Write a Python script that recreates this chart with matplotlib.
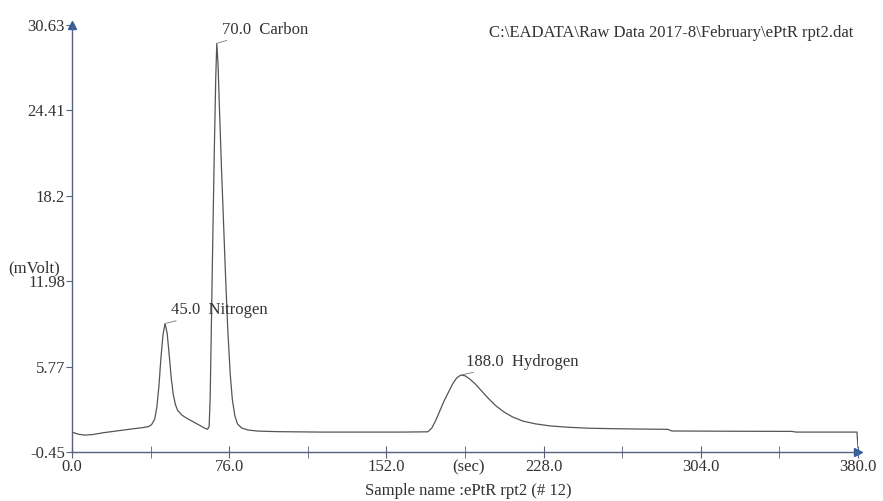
import matplotlib.pyplot as plt
from matplotlib.ticker import FixedLocator

plt.rcParams['font.family'] = ['Liberation Serif', 'DejaVu Serif']

# chromatogram trace (time in sec, signal in mV)
time_s = [0, 3, 6, 10, 15, 20, 25, 30, 34, 37, 38.5, 40, 41, 42, 43, 44, 45,
          46, 47, 48, 49, 50, 51, 53, 55, 58, 61, 64, 65.5, 66.3, 66.8, 67.3,
          68, 68.8, 69.5, 70, 70.6, 71.3, 72.2, 73.2, 74.2, 75.3, 76.5, 77.5,
          78.7, 80, 82, 85, 90, 100, 120, 140, 160, 172, 174, 176, 178, 180,
          182, 184, 186, 188, 190, 192, 195, 198, 201, 205, 209, 213, 218,
          224, 231, 240, 250, 260, 275, 288, 290, 320, 348, 350, 370, 379.5,
          380]
signal_mv = [1.0, 0.85, 0.78, 0.82, 0.95, 1.05, 1.15, 1.25, 1.32, 1.4, 1.55,
             1.95, 2.8, 4.3, 6.4, 8.1, 8.9, 8.2, 6.6, 4.9, 3.7, 3.0, 2.6,
             2.25, 2.05, 1.8, 1.55, 1.3, 1.2, 1.4, 3.5, 8.0, 14.5, 21.5, 26.8,
             29.3, 27.8, 24.5, 20.5, 16.5, 12.5, 8.5, 5.2, 3.4, 2.2, 1.6, 1.3,
             1.15, 1.07, 1.03, 1.0, 1.0, 1.0, 1.02, 1.3, 1.9, 2.6, 3.3, 3.9,
             4.5, 4.95, 5.15, 5.1, 4.9, 4.5, 4.0, 3.5, 2.9, 2.45, 2.1, 1.8,
             1.6, 1.45, 1.35, 1.28, 1.25, 1.22, 1.2, 1.08, 1.06, 1.05, 1.0,
             1.0, 1.0, -0.1]

peak_times = [45.0, 70.0, 188.0]
peak_heights = [8.9, 29.3, 5.15]
peak_names = ['Nitrogen', 'Carbon', 'Hydrogen']

y_ticks = [-0.45, 5.77, 11.98, 18.2, 24.41, 30.63]
y_tick_labels = ['-0.45', '5.77', '11.98', '18.2', '24.41', '30.63']
x_ticks = [0, 76, 152, 228, 304, 380]
x_minor = [38, 114, 190, 266, 342]

file_path = r'C:\EADATA\Raw Data 2017-8\February\ePtR rpt2.dat'
sample_name = 'Sample name :ePtR rpt2 (# 12)'

axis_col = '#5a6080'
arrow_col = '#2f5f9f'
text_col = '#333333'
fs = 12

fig = plt.figure(figsize=(8.83, 5.01), dpi=100)
ax = fig.add_axes([72 / 883, 49 / 501, 786 / 883, 427 / 501])

ax.plot(time_s, signal_mv, color='#555555', lw=0.9)

ax.set_xlim(0, 380)
ax.set_ylim(-0.45, 30.63)

for s in ['top', 'right']:
    ax.spines[s].set_visible(False)
for s in ['left', 'bottom']:
    ax.spines[s].set_color(axis_col)
    ax.spines[s].set_linewidth(1.0)

ax.set_yticks(y_ticks)
ax.set_yticklabels(y_tick_labels)
ax.set_xticks(x_ticks)
ax.set_xticklabels(['%.1f' % v for v in x_ticks])
ax.xaxis.set_minor_locator(FixedLocator(x_minor))
ax.tick_params(axis='x', which='both', direction='inout', length=8,
               color=axis_col, labelsize=fs, labelcolor=text_col, pad=1)
ax.tick_params(axis='y', direction='out', length=4, color=axis_col,
               labelsize=fs, labelcolor=text_col, pad=1)

# arrow heads on the axes
ax.plot([0], [30.63], marker='^', color=arrow_col, ms=6, clip_on=False)
ax.plot([380], [-0.45], marker='>', color=arrow_col, ms=6, clip_on=False)

# peak labels with short leader lines
for t, h, name in zip(peak_times, peak_heights, peak_names):
    ax.annotate('%.1f  %s' % (t, name), xy=(t, h), xytext=(4, 4),
                textcoords='offset points', fontsize=fs, color=text_col,
                va='bottom', ha='left',
                arrowprops=dict(arrowstyle='-', color='#777777', lw=0.6,
                                shrinkA=0, shrinkB=1))

fig.text(468 / 883, 1 - 467 / 501, '(sec)', ha='center', va='center',
         fontsize=fs, color=text_col)
fig.text(468 / 883, 1 - 491 / 501, sample_name, ha='center', va='center',
         fontsize=fs, color=text_col)
fig.text(34 / 883, 1 - 268 / 501, '(mVolt)', ha='center', va='center',
         fontsize=fs, color=text_col)
fig.text(853 / 883, 1 - 33 / 501, file_path, ha='right', va='center',
         fontsize=fs, color=text_col)

fig.savefig('out.png', dpi=100)
